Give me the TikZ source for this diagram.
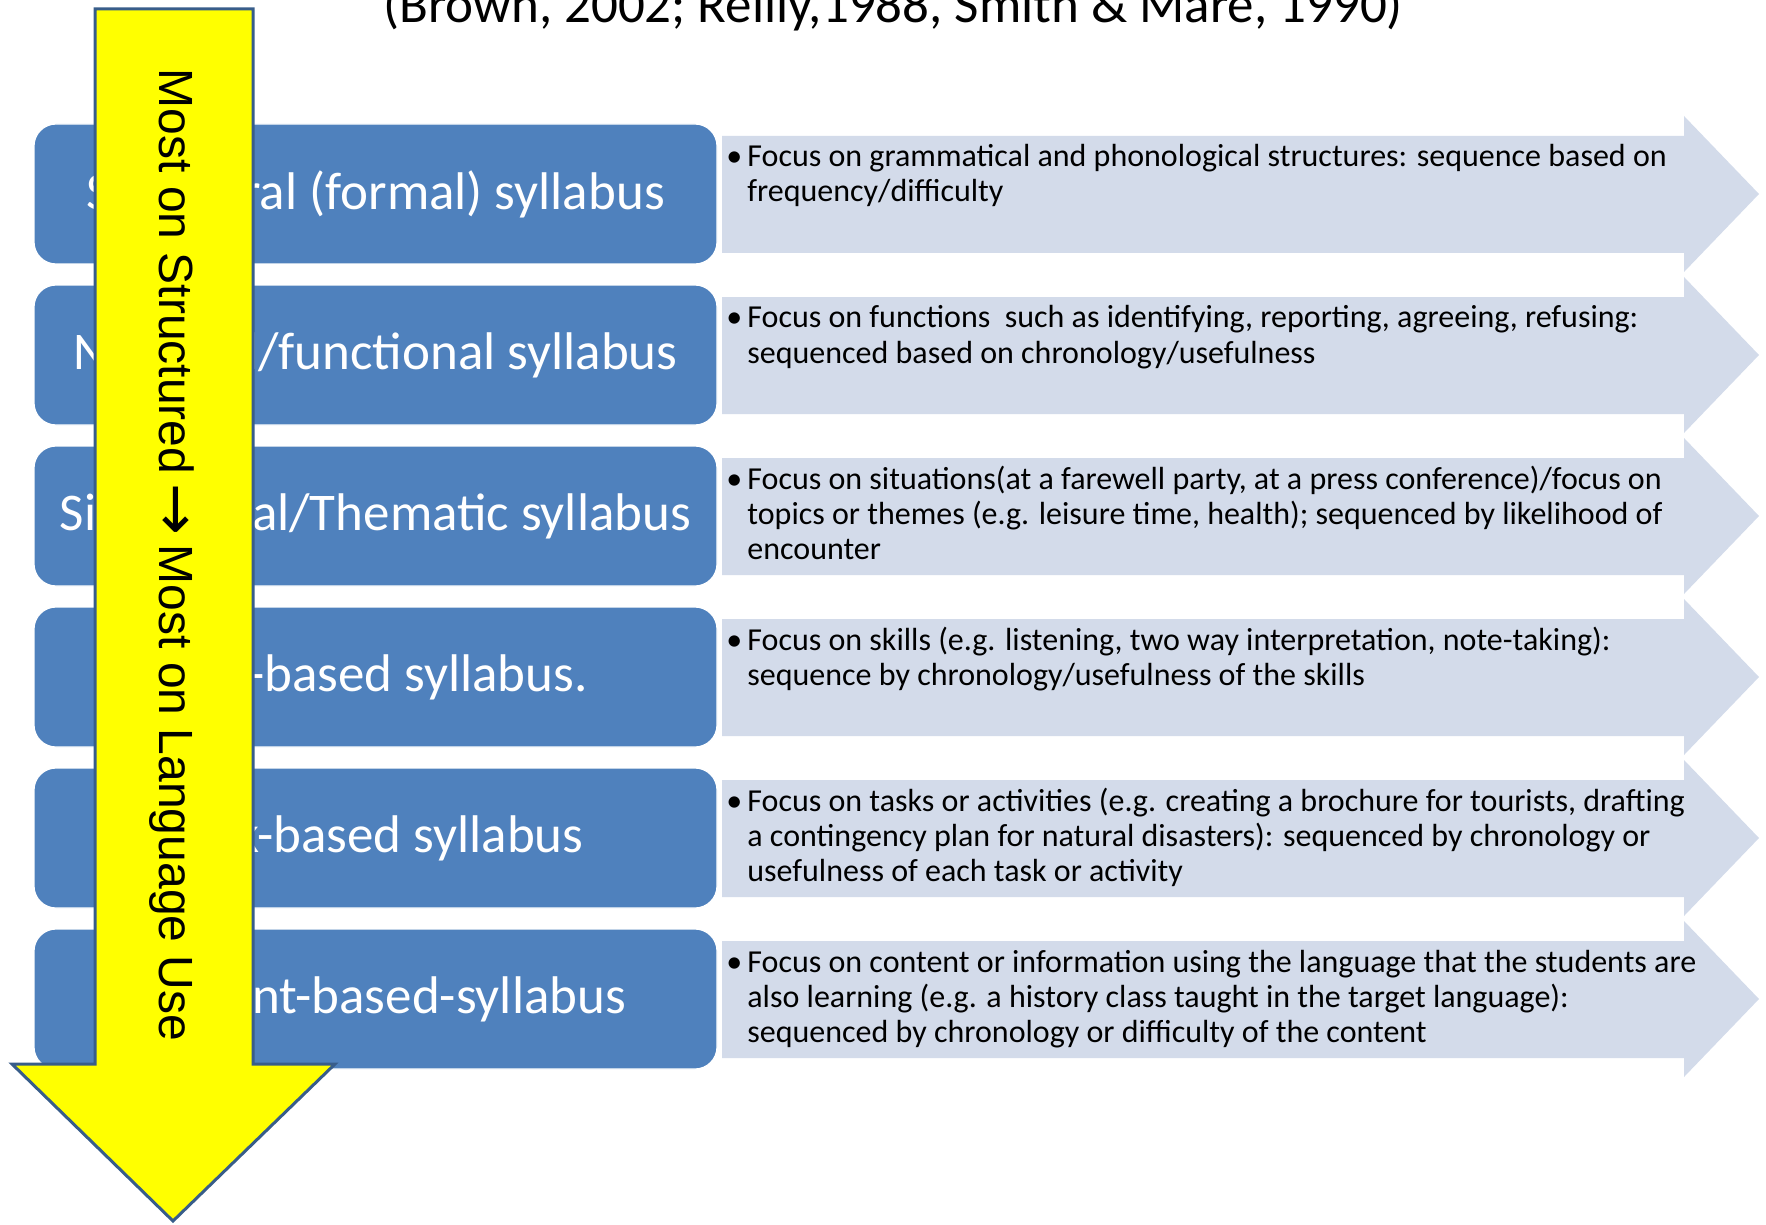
\documentclass[tikz,border=0pt]{standalone}
\usepackage{fontspec}
\setmainfont{Carlito}
\newfontfamily\arrowfont{Liberation Sans}
\newfontfamily\symbfont{DejaVu Sans}
\usetikzlibrary{positioning}

\definecolor{boxblue}{RGB}{79,129,189}
\definecolor{focusfill}{RGB}{211,219,234}
\definecolor{arrowline}{RGB}{56,93,138}
\definecolor{arrowyellow}{RGB}{255,255,0}

\tikzset{
  syllbox/.style={rectangle, rounded corners=11pt, fill=boxblue, draw=white,
    line width=0.6pt, minimum width=341.5pt, minimum height=70pt,
    text=white, font=\fontsize{26.5}{30}\selectfont},
  focusarrow/.style={fill=focusfill},
  focustext/.style={anchor=base west, align=left, inner sep=0pt,
    font=\fontsize{16}{17.5}\selectfont},
  bigarrow/.style={fill=arrowyellow, draw=arrowline, line width=1.5pt},
}

\newcommand{\bul}{\llap{\makebox[10.5pt][l]{•}}}

\begin{document}
\begin{tikzpicture}[x=0.5pt, y=-0.5pt]
	\useasboundingbox (0,0) rectangle (1766,1225);
	\clip (0,0) rectangle (1766,1225);

	\node[anchor=base, font=\fontsize{26.5}{30}\selectfont] (refs) at (893,23)
	{(Brown, 2002; Reilly,1988, Smith \& Mare, 1990)};

	% arrows on the right
	\fill[focusarrow] (722,136) -- ++(962,0) -- ++(0,-20) -- ++(75,78) -- ++(-75,78) -- ++(0,-19) -- ++(-962,0) -- cycle;
	\fill[focusarrow] (722,297) -- ++(962,0) -- ++(0,-20) -- ++(75,78) -- ++(-75,78) -- ++(0,-19) -- ++(-962,0) -- cycle;
	\fill[focusarrow] (722,458) -- ++(962,0) -- ++(0,-20) -- ++(75,78) -- ++(-75,78) -- ++(0,-19) -- ++(-962,0) -- cycle;
	\fill[focusarrow] (722,619) -- ++(962,0) -- ++(0,-20) -- ++(75,78) -- ++(-75,78) -- ++(0,-19) -- ++(-962,0) -- cycle;
	\fill[focusarrow] (722,780) -- ++(962,0) -- ++(0,-20) -- ++(75,78) -- ++(-75,78) -- ++(0,-19) -- ++(-962,0) -- cycle;
	\fill[focusarrow] (722,941) -- ++(962,0) -- ++(0,-20) -- ++(75,78) -- ++(-75,78) -- ++(0,-19) -- ++(-962,0) -- cycle;

	% base is the last line here
	\node[focustext] (structuraltext) at (747,202)
	{\bul Focus on grammatical and phonological structures: sequence based on\\
	frequency/difficulty};
	\node[focustext] (notionaltext) at (747,363)
	{\bul Focus on functions\ \ such as identifying, reporting, agreeing, refusing:\\
	sequenced based on chronology/usefulness};
	\node[focustext] (situationaltext) at (747,559)
	{\bul Focus on situations(at a farewell party, at a press conference)/focus on\\
	topics or themes (e.g. leisure time, health); sequenced by likelihood of\\
	encounter};
	\node[focustext] (skilltext) at (747,685)
	{\bul Focus on skills (e.g. listening, two way interpretation, note-taking):\\
	sequence by chronology/usefulness of the skills};
	\node[focustext] (tasktext) at (747,881)
	{\bul Focus on tasks or activities (e.g. creating a brochure for tourists, drafting\\
	a contingency plan for natural disasters): sequenced by chronology or\\
	usefulness of each task or activity};
	\node[focustext] (contenttext) at (747,1042)
	{\bul Focus on content or information using the language that the students are\\
	also learning (e.g. a history class taught in the target language):\\
	sequenced by chronology or difficulty of the content};

	% syllabus types
	\node[syllbox] (structural) at (375.5,194) {Structural (formal) syllabus};
	\node[syllbox] (notional) at (375.5,355) {Notional/functional syllabus};
	\node[syllbox] (situational) at (375.5,516) {Situational/Thematic syllabus};
	\node[syllbox] (skill) at (375.5,677) {Skill-based syllabus.};
	\node[syllbox] (task) at (375.5,838) {Task-based syllabus};
	\node[syllbox] (content) at (375.5,999) {Content-based-syllabus};

	% big arrow down
	\draw[bigarrow] (95,9) -- (253,9) -- (253,1064) -- (335,1064) -- (173,1221)
	  -- (12,1064) -- (95,1064) -- cycle;
	\node[rotate=-90, font=\arrowfont\fontsize{24}{28}\selectfont] (scale) at (172,555)
	{Most on Structured\hspace{-2pt} {\symbfont\fontsize{31}{31}\selectfont\raisebox{-1.5pt}{→}}\hspace{-2pt} Most on Language Use};

\end{tikzpicture}
\end{document}
